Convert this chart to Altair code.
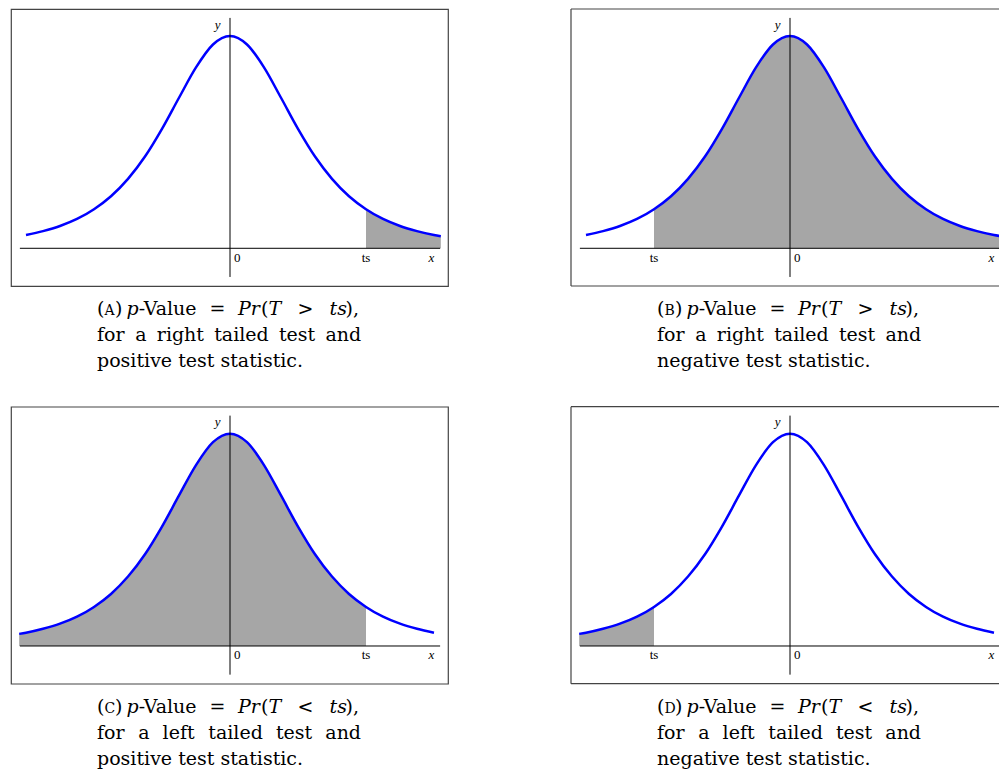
import altair as alt
import pandas as pd

# ---- values -----------------------------------------------------------
# curve height relative to its peak
curve_x = [-3.1, -3.0, -2.75, -2.5, -2.25, -2.0, -1.75, -1.5, -1.25, -1.0, -0.75, -0.5, -0.25, 0.0,
           0.25, 0.5, 0.75, 1.0, 1.25, 1.5, 1.75, 2.0, 2.25, 2.5, 2.75, 3.0, 3.1]
curve_y = [0.057, 0.0625, 0.081, 0.105, 0.138, 0.184, 0.245, 0.327, 0.432, 0.5625, 0.709, 0.852, 0.960, 1.0,
           0.960, 0.852, 0.709, 0.5625, 0.432, 0.327, 0.245, 0.184, 0.138, 0.105, 0.081, 0.0625, 0.057]

panel_ids = ["A", "B", "C", "D"]
ts_values = [2.0, -2.0, 2.0, -2.0]
curve_lo = [-3.0, -3.0, -3.1, -3.1]
curve_hi = [3.1, 3.1, 3.0, 3.0]
shade_lo = [2.0, -2.0, -3.1, -3.1]
shade_hi = [3.1, 3.1, 2.0, -2.0]
comparators = [">", ">", "<", "<"]
tails = ["right", "right", "left", "left"]
signs = ["positive", "negative", "positive", "negative"]
axis_x_ends = [-3.09, 3.09]
axis_y_ends = [-0.135, 1.085]
label_y = -0.063
zero_label_x = 0.06
x_label_x = 2.96
y_label_pos = [-0.18, 1.035]

# ---- layout -------------------------------------------------------------
PX = 68.0
H = 277
W_LEFT = 437
W_RIGHT = 428
Y_DOMAIN = [-0.1776, 1.127]
CAP_FONT = "DejaVu Serif"
CAP_SIZE = 19
LAB_FONT = "Liberation Serif"
LAB_SIZE = 13


def one_row():
    return pd.DataFrame({"k": [0]})


def caption_layers(i):
    layers = []
    x0 = 86
    base = [306, 332, 358]
    # line 1 segments: (text, offset, size, italic)
    segs = [("(", 0, CAP_SIZE, False), (panel_ids[i], 7.6, 14, False), (")", 18, CAP_SIZE, False),
            ("p", 29.5, CAP_SIZE, True), ("-Value", 41.7, CAP_SIZE, False),
            ("=", 112.5, CAP_SIZE, False), ("Pr", 141.0, CAP_SIZE, True), ("(", 164.0, CAP_SIZE, False),
            ("T", 171.5, CAP_SIZE, True), (comparators[i], 200.5, CAP_SIZE, False),
            ("ts", 232.5, CAP_SIZE, True), (")", 248.5, CAP_SIZE, False), (",", 256.0, CAP_SIZE, False)]
    if tails[i] == "right":
        words = [("for", 0), ("a", 38.3), ("right", 59.8), ("tailed", 117.2), ("test", 181.9), ("and", 228.4)]
    else:
        words = [("for", 0), ("a", 41.2), ("left", 65.6), ("tailed", 111.3), ("test", 178.9), ("and", 228.3)]
    items = [(t, o, s, it, base[0]) for (t, o, s, it) in segs]
    items += [(t, o, CAP_SIZE, False, base[1]) for (t, o) in words]
    items += [(signs[i] + " test statistic.", 0, CAP_SIZE, False, base[2])]
    for (t, o, s, it, yb) in items:
        layers.append(
            alt.Chart(one_row()).mark_text(
                align="left", baseline="alphabetic", font=CAP_FONT, fontSize=s,
                fontStyle="italic" if it else "normal", color="black"
            ).encode(x=alt.value(x0 + o), y=alt.value(yb), text=alt.value(t))
        )
    return layers


def panel(i, width):
    xs = alt.Scale(domain=[-219 / PX, (width - 219) / PX], nice=False, zero=False)
    ys = alt.Scale(domain=Y_DOMAIN, nice=False, zero=False)
    df = pd.DataFrame({"x": curve_x, "y": curve_y})
    cdf = df[(df.x >= curve_lo[i] - 1e-9) & (df.x <= curve_hi[i] + 1e-9)]
    sdf = df[(df.x >= shade_lo[i] - 1e-9) & (df.x <= shade_hi[i] + 1e-9)]
    X = alt.X("x:Q", scale=xs, axis=None)
    Y = alt.Y("y:Q", scale=ys, axis=None)

    area = alt.Chart(sdf).mark_area(color="#a6a6a6", interpolate="monotone", clip=True).encode(
        x=X, y=Y, y2=alt.datum(0))
    line = alt.Chart(cdf).mark_line(color="#0000ff", strokeWidth=2.5, interpolate="monotone", clip=True).encode(
        x=X, y=Y)
    hax = alt.Chart(pd.DataFrame({"x": [axis_x_ends[0]], "x2": [axis_x_ends[1]], "y": [0.0]})).mark_rule(
        color="black", strokeWidth=1, clip=True).encode(x=X, x2="x2:Q", y=Y)
    vax = alt.Chart(pd.DataFrame({"x": [0.0], "y": [axis_y_ends[0]], "y2": [axis_y_ends[1]]})).mark_rule(
        color="black", strokeWidth=1).encode(x=X, y=Y, y2="y2:Q")
    lab_df = pd.DataFrame({"x": [zero_label_x], "y": [label_y], "t": ["0"]})
    zero_lab = alt.Chart(lab_df).mark_text(align="left", baseline="alphabetic", font=LAB_FONT,
                                           fontSize=LAB_SIZE, color="black").encode(x=X, y=Y, text="t:N")
    ts_df = pd.DataFrame({"x": [ts_values[i]], "y": [label_y], "t": ["ts"]})
    ts_lab = alt.Chart(ts_df).mark_text(align="center", baseline="alphabetic", font=LAB_FONT,
                                        fontSize=LAB_SIZE, color="black").encode(x=X, y=Y, text="t:N")
    xy_df = pd.DataFrame({"x": [x_label_x, y_label_pos[0]], "y": [label_y, y_label_pos[1]], "t": ["x", "y"]})
    xy_lab = alt.Chart(xy_df).mark_text(align="center", baseline="alphabetic", font=LAB_FONT,
                                        fontSize=LAB_SIZE, fontStyle="italic", color="black").encode(
        x=X, y=Y, text="t:N")

    layers = [area, line, hax, vax, zero_lab, ts_lab, xy_lab]
    if width == W_RIGHT:
        bc = "#444444"
        layers += [
            alt.Chart(one_row()).mark_rule(color=bc, strokeWidth=1.2).encode(
                x=alt.value(0), x2=alt.value(width), y=alt.value(0)),
            alt.Chart(one_row()).mark_rule(color=bc, strokeWidth=1.2).encode(
                x=alt.value(0), x2=alt.value(width), y=alt.value(H)),
            alt.Chart(one_row()).mark_rule(color=bc, strokeWidth=1.2).encode(
                x=alt.value(0), y=alt.value(0), y2=alt.value(H)),
        ]
    layers += caption_layers(i)
    ch = alt.layer(*layers).properties(width=width, height=H)
    if width == W_RIGHT:
        ch = ch.properties(view=alt.ViewBackground(strokeOpacity=0))
    return ch


chart = alt.concat(
    panel(0, W_LEFT), panel(1, W_RIGHT), panel(2, W_LEFT), panel(3, W_RIGHT),
    columns=2,
    spacing=alt.RowColnumber(row=120.7, column=123),
    bounds="flush",
).properties(
    padding={"left": 10, "top": 8, "right": 0, "bottom": 0},
    background="white",
).configure_view(stroke="#444444", strokeWidth=1.2)

chart.save("out.html", embed_options={"renderer": "svg", "actions": False})
